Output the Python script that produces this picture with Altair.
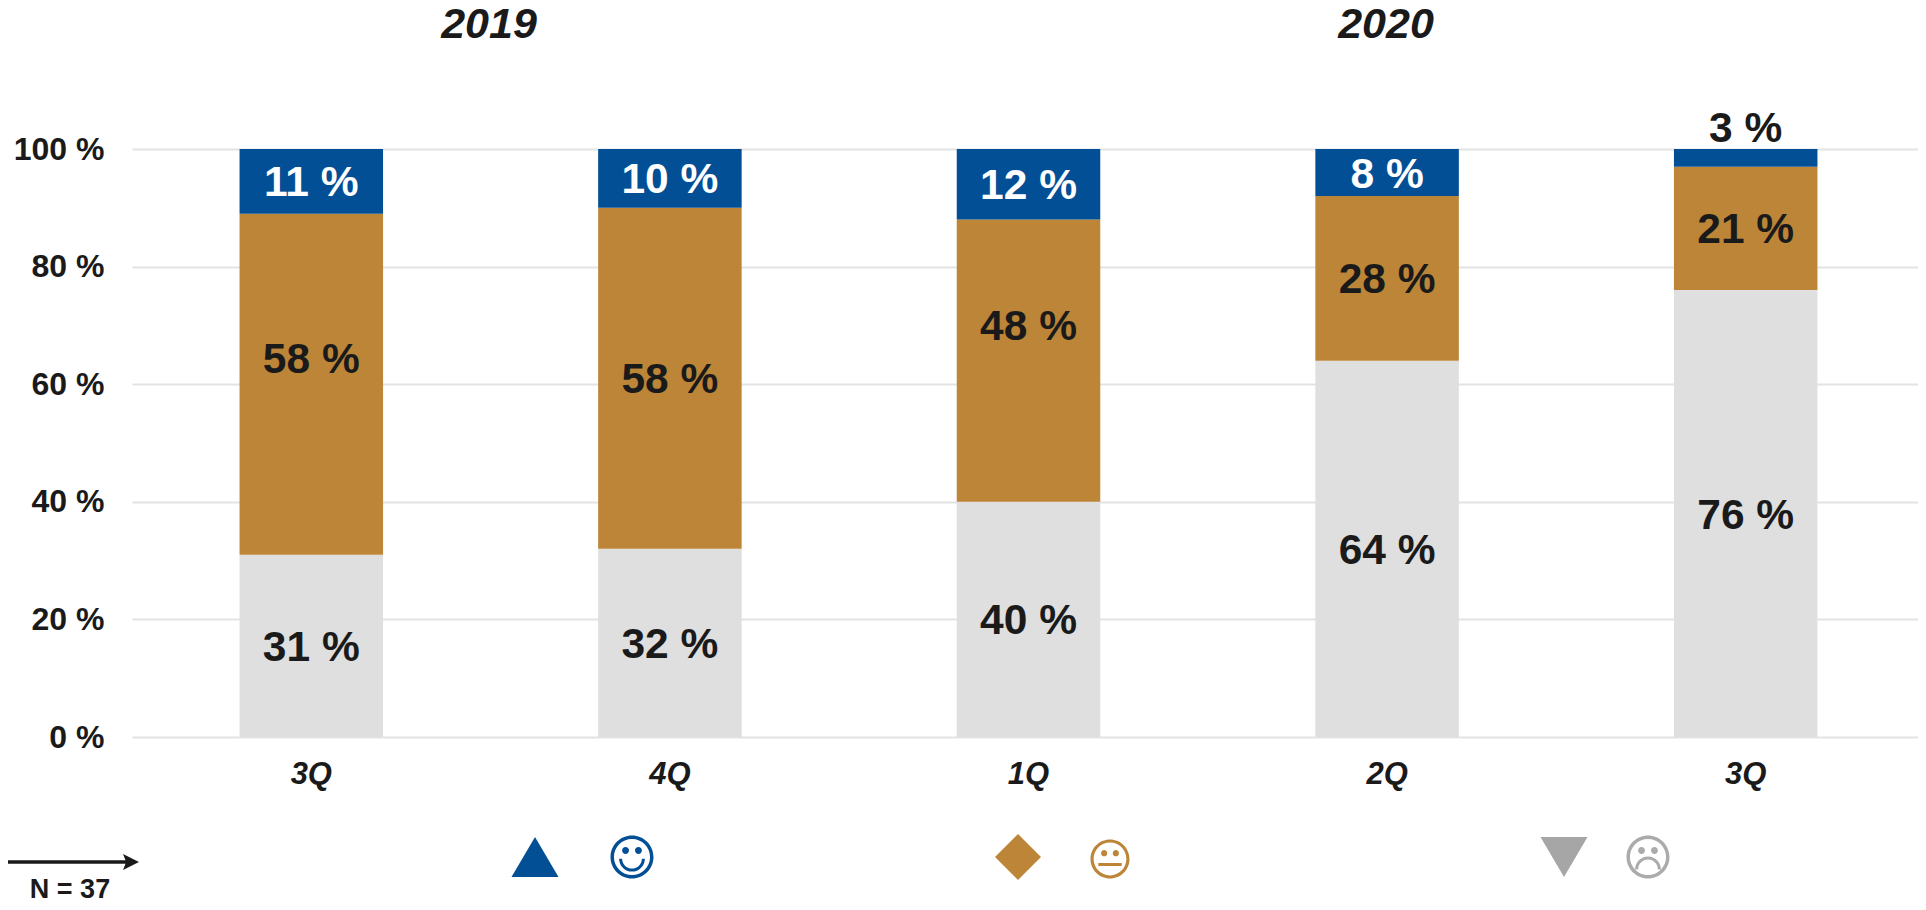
import altair as alt
import pandas as pd

periods = ["2019 3Q", "2019 4Q", "2020 1Q", "2020 2Q", "2020 3Q"]
negative = [31, 32, 40, 64, 76]
neutral = [58, 58, 48, 28, 21]
positive = [11, 10, 12, 8, 3]
negative_label_at = [15.5, 16, 20, 32, 38]
neutral_label_at = [64.5, 61, 70, 78, 86.5]
positive_label_at = [94.5, 95, 94, 96, 103.8]
y_ticks = [0, 20, 40, 60, 80, 100]

FONT = "Liberation Sans"
INK = "#1a1a1a"
BLUE = "#034F96"
GOLD = "#BC8537"
GREY = "#DFDFDF"
MARK_GREY = "#A6A6A6"
FACE_GREY = "#ABABAB"

rows = []
for i, p in enumerate(periods):
    lo = 0
    for name, series, at, fill, text_col in [
        ("neg", negative, negative_label_at, GREY, INK),
        ("neu", neutral, neutral_label_at, GOLD, INK),
        ("pos", positive, positive_label_at, BLUE, "#ffffff"),
    ]:
        v = series[i]
        hi = lo + v
        outside = at[i] > 100
        rows.append(dict(period=p, series=name, value=v, lo=lo, hi=hi, fill=fill,
                         text_col=INK if outside else text_col,
                         label=f"{v} %", label_y=at[i]))
        lo = hi
df = pd.DataFrame(rows)

LEFT, TOP = 124, 141
W, H = 1786, 588
def px(x): return x - 8 - LEFT
def py(y): return y - 8 - TOP

xscale = alt.Scale(domain=periods, paddingInner=0.6, paddingOuter=0.3, range=[0, 1793])
yscale = alt.Scale(domain=[0, 100], nice=False)

bars = alt.Chart(df).mark_bar(size=143.5).encode(
    x=alt.X("period:N", scale=xscale, sort=periods, title=None,
            axis=alt.Axis(labelExpr="split(datum.label,' ')[1]", labelFont=FONT, labelFontSize=31,
                          labelFontWeight="bold", labelFontStyle="italic", labelColor=INK,
                          labelAngle=0, labelPadding=22, ticks=False, domain=False, grid=False)),
    y=alt.Y("lo:Q", scale=yscale, title=None,
            axis=alt.Axis(values=y_ticks, labelExpr="datum.value + ' %'", labelFont=FONT, labelFontSize=32,
                          labelFontWeight="bold", labelColor=INK, labelPadding=28, ticks=False, domain=False,
                          grid=True, gridColor="#E3E3E3", gridWidth=2)),
    y2="hi:Q",
    color=alt.Color("fill:N", scale=None),
)

labels = alt.Chart(df).mark_text(font=FONT, fontSize=42.5, fontWeight="bold", dy=2).encode(
    x=alt.X("period:N", scale=xscale, sort=periods),
    y=alt.Y("label_y:Q", scale=yscale),
    text="label:N",
    color=alt.Color("text_col:N", scale=None),
)

blank = alt.Data(values=[{}])

def note(text, x, y, size, style=None):
    kw = dict(font=FONT, fontSize=size, fontWeight="bold", color=INK, align="center", baseline="middle", text=text)
    if style:
        kw["fontStyle"] = style
    return alt.Chart(blank).mark_text(**kw).encode(x=alt.value(px(x)), y=alt.value(py(y)))

def glyph(path, x, y, width, color):
    return alt.Chart(blank).mark_point(shape=path, filled=True, opacity=1, color=color, size=width * width, strokeWidth=0).encode(
        x=alt.value(px(x)), y=alt.value(py(y)))

RING = ("M-1,0 A1,1 0 1,1 1,0 A1,1 0 1,1 -1,0 Z "
        "M-0.84,0 A0.84,0.84 0 1,0 0.84,0 A0.84,0.84 0 1,0 -0.84,0 Z ")
EYES = ("M-0.46,-0.3 A0.16,0.16 0 1,1 -0.14,-0.3 A0.16,0.16 0 1,1 -0.46,-0.3 Z "
        "M0.14,-0.3 A0.16,0.16 0 1,1 0.46,-0.3 A0.16,0.16 0 1,1 0.14,-0.3 Z ")
SMILE = RING + EYES + "M-0.6,0.08 A0.6,0.6 0 0,0 0.6,0.08 L0.46,0.08 A0.46,0.46 0 0,1 -0.46,0.08 Z"
FLAT = RING + EYES + "M-0.6,0.2 L0.6,0.2 L0.6,0.36 L-0.6,0.36 Z"
FROWN = RING + EYES + "M-0.6,0.58 A0.6,0.6 0 0,1 0.6,0.58 L0.46,0.58 A0.46,0.46 0 0,0 -0.46,0.58 Z"
UP = "M0,-0.85 L1,0.85 L-1,0.85 Z"
DOWN = "M-1,-0.85 L1,-0.85 L0,0.85 Z"
DIAMOND = "M0,-1 L1,0 L0,1 L-1,0 Z"
ARROW = "M-1,-1 L1,0 L-1,1 L-0.6,0 Z"

decor = [
    note("2019", 489, 25, 43, "italic"),
    note("2020", 1386, 25, 43, "italic"),
    note("N = 37", 70, 890, 27),
    glyph(UP, 535, 857, 47, BLUE),
    glyph(SMILE, 632, 857, 43, BLUE),
    glyph(DIAMOND, 1018, 857, 46, GOLD),
    glyph(FLAT, 1110, 859, 39, GOLD),
    glyph(DOWN, 1564, 857, 47, MARK_GREY),
    glyph(FROWN, 1648, 857, 43, FACE_GREY),
    alt.Chart(blank).mark_rule(color=INK, strokeWidth=3.5).encode(
        x=alt.value(px(8)), x2=alt.value(px(128)), y=alt.value(py(862))),
    glyph(ARROW, 131, 862, 16, INK),
]

chart = alt.layer(bars, labels, *decor).properties(
    width=W, height=H,
    autosize=alt.AutoSizeParams(type="none"),
    padding={"left": LEFT, "top": TOP, "right": 0, "bottom": 165},
).configure_view(stroke=None)

chart.save("out.html", embed_options={"renderer": "svg", "actions": False})
